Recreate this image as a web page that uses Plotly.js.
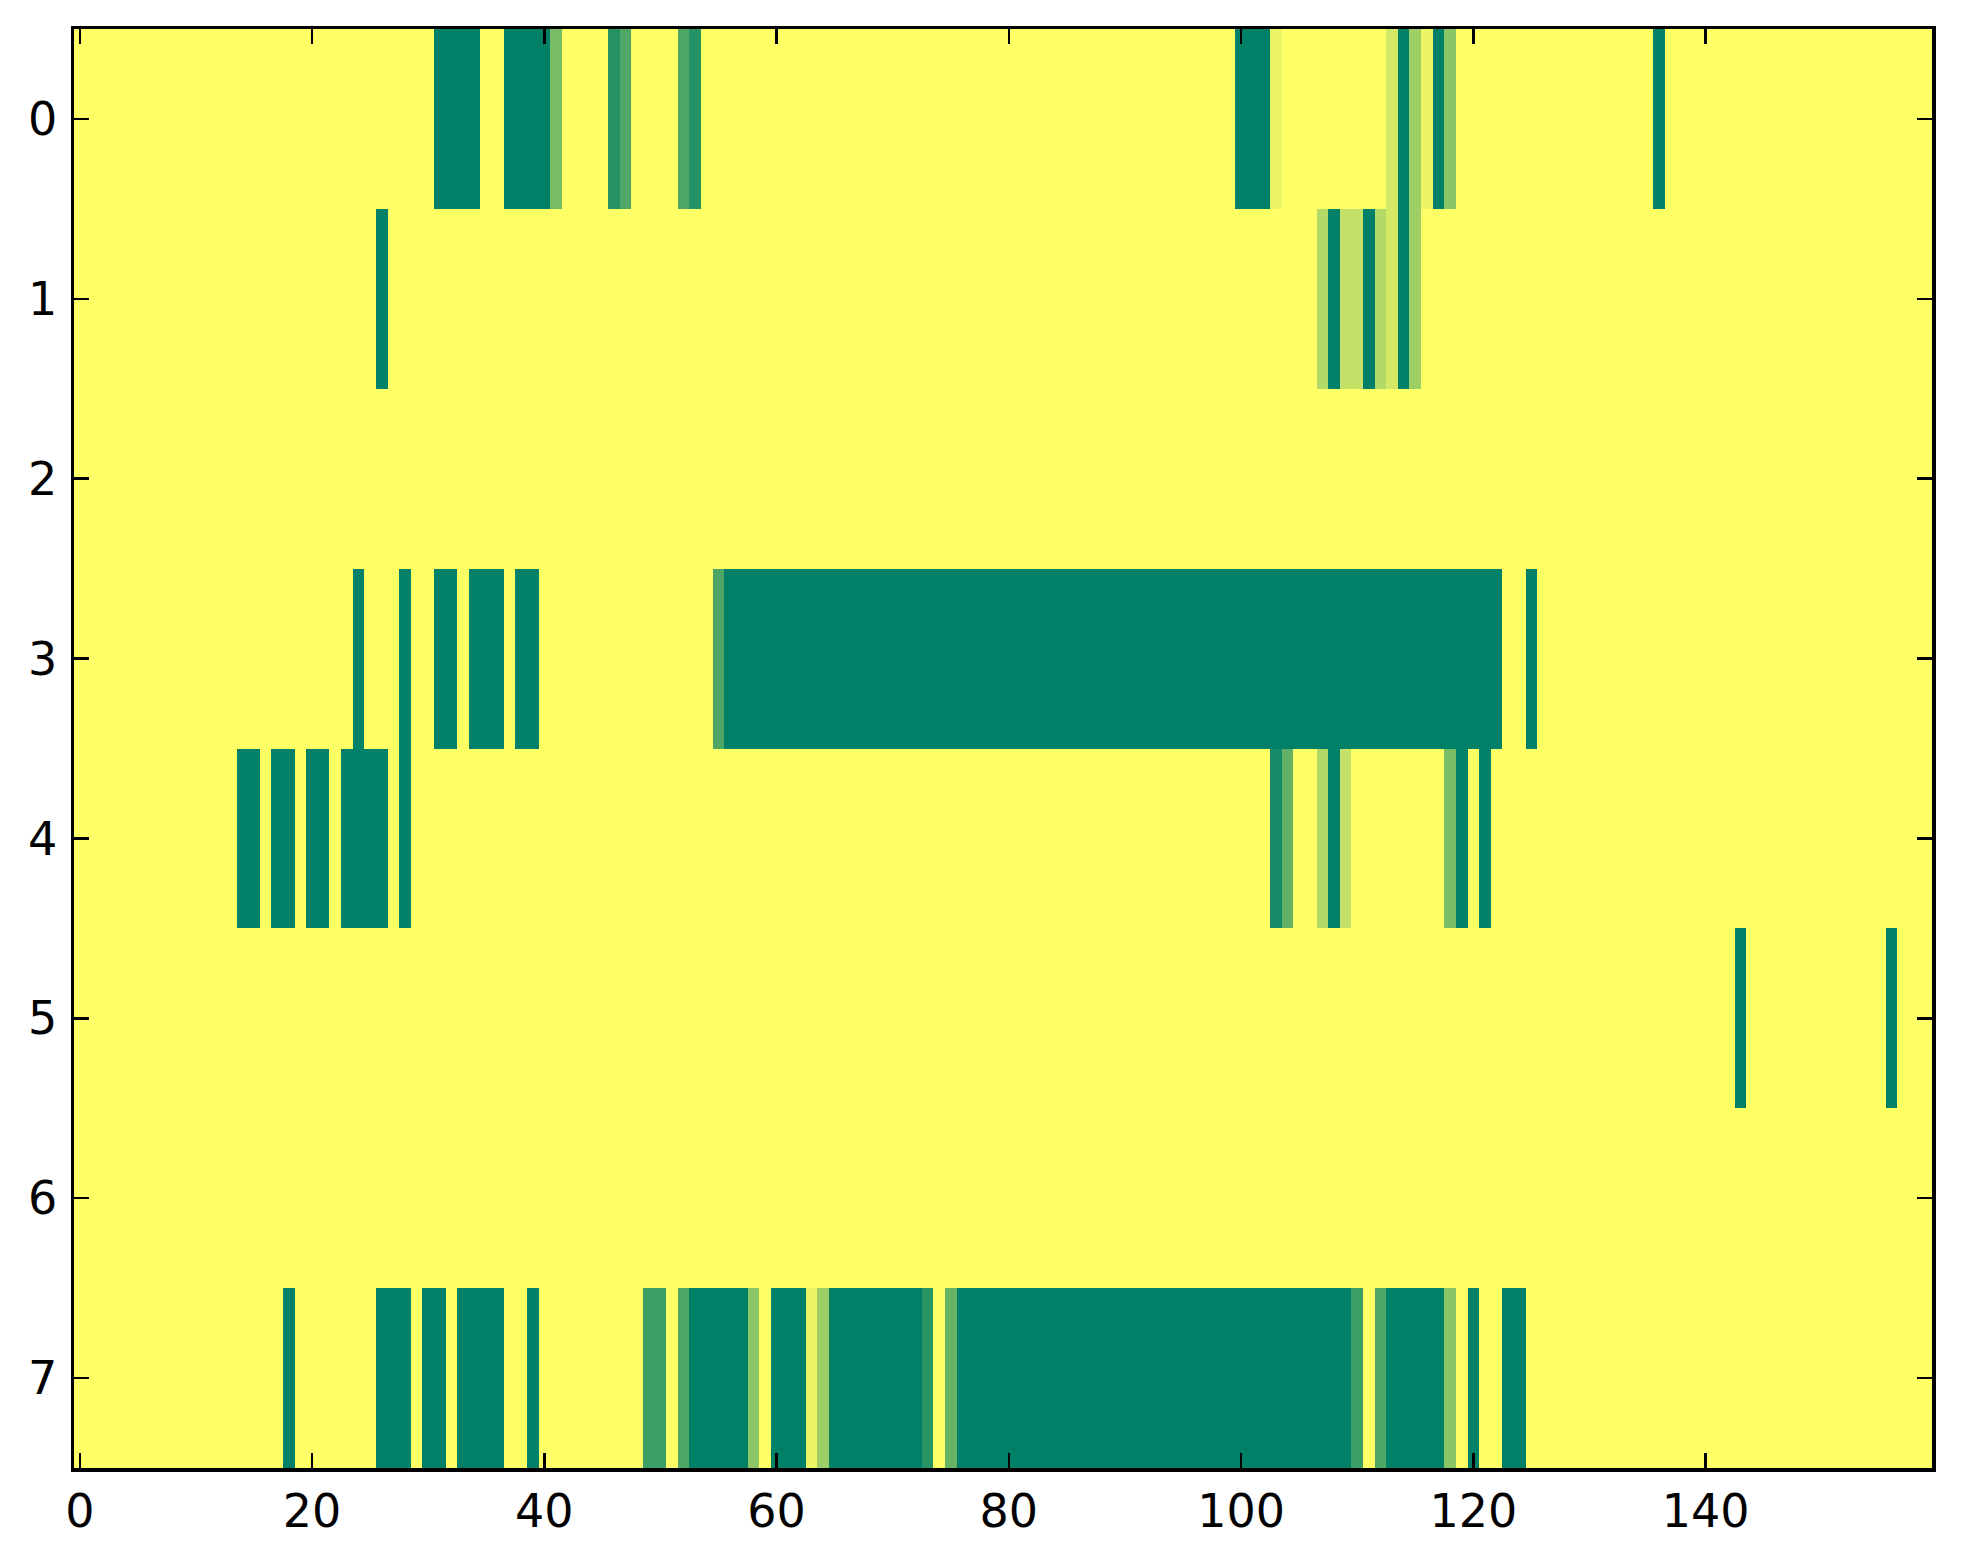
<!DOCTYPE html>
<html>
<head>
<meta charset="utf-8">
<script src="https://cdn.plot.ly/plotly-3.0.1.min.js"></script>
<style>html,body{margin:0;padding:0;background:#fff;}</style>
</head>
<body>
<div id="chart" style="width:1963px;height:1564px;"></div>
<script>
// Data: number of columns, row labels, tick labels
const nCols = 160;
const rowLabels = [0, 1, 2, 3, 4, 5, 6, 7];
const xTicks = [0, 20, 40, 60, 80, 100, 120, 140];

// Non-zero cells per row as runs: [firstColumn, lastColumn, value]
const row0 = [[31,34,1],[37,40,1],[41,41,0.53],[46,46,0.85],[47,47,0.69],[52,52,0.69],[53,53,0.85],
  [100,102,1],[103,103,0.08],[113,113,0.17],[114,114,1],[115,115,0.38],[116,116,0.08],[117,117,1],[118,118,0.46],[136,136,1]];
const row1 = [[26,26,1],[107,107,0.3],[108,108,1],[109,110,0.24],[111,111,1],[112,112,0.3],[113,113,0.17],[114,114,1],[115,115,0.38]];
const row2 = [];
const row3 = [[24,24,1],[28,28,1],[31,32,1],[34,36,1],[38,39,1],[55,55,0.7],[56,122,1],[125,125,1]];
const row4 = [[14,15,1],[17,18,1],[20,21,1],[23,26,1],[28,28,1],[103,103,0.92],[104,104,0.62],[107,107,0.3],[108,108,1],
  [109,109,0.24],[118,118,0.53],[119,119,1],[121,121,1]];
const row5 = [[143,143,1],[156,156,1]];
const row6 = [];
const row7 = [[18,18,1],[26,28,1],[30,31,1],[33,36,1],[39,39,1],[49,50,0.76],[52,52,0.69],[53,57,1],[58,58,0.45],
  [60,62,1],[63,63,0.08],[64,64,0.38],[65,72,1],[73,73,0.84],[75,75,0.6],[76,109,1],[110,110,0.76],[112,112,0.69],
  [113,117,1],[118,118,0.46],[120,120,1],[123,124,1]];

const rows = [row0, row1, row2, row3, row4, row5, row6, row7];
const xs = Array.from({length: nCols}, (_, i) => i);
const z = rows.map(runs => {
  const r = new Array(nCols).fill(0);
  runs.forEach(([a, b, v]) => { for (let c = a; c <= b; c++) r[c] = v; });
  return r;
});

const font = {family: 'DejaVu Sans', size: 46, color: '#000'};
const axisCommon = {
  ticks: 'inside', ticklen: 15, tickwidth: 2.5, tickcolor: '#000',
  showline: true, linewidth: 3.5, linecolor: '#000', mirror: 'allticks',
  showgrid: false, zeroline: false, tickfont: font
};

Plotly.newPlot('chart', [{
  type: 'heatmap',
  x: xs, y: rowLabels, z: z,
  zmin: 0, zmax: 1,
  colorscale: [[0, 'rgb(255,255,102)'], [1, 'rgb(0,128,102)']],
  showscale: false,
  hoverinfo: 'skip'
}], {
  width: 1963, height: 1564,
  margin: {l: 74, r: 31, t: 29, b: 96},
  paper_bgcolor: '#fff', plot_bgcolor: '#fff',
  xaxis: Object.assign({}, axisCommon, {range: [-0.5, nCols - 0.5], tickvals: xTicks, ticktext: xTicks.map(String)}),
  yaxis: Object.assign({}, axisCommon, {range: [7.5, -0.5], tickvals: rowLabels, ticktext: rowLabels.map(String), ticklabelstandoff: 4}),
  showlegend: false
}, {displayModeBar: false, staticPlot: true});
</script>
</body>
</html>
